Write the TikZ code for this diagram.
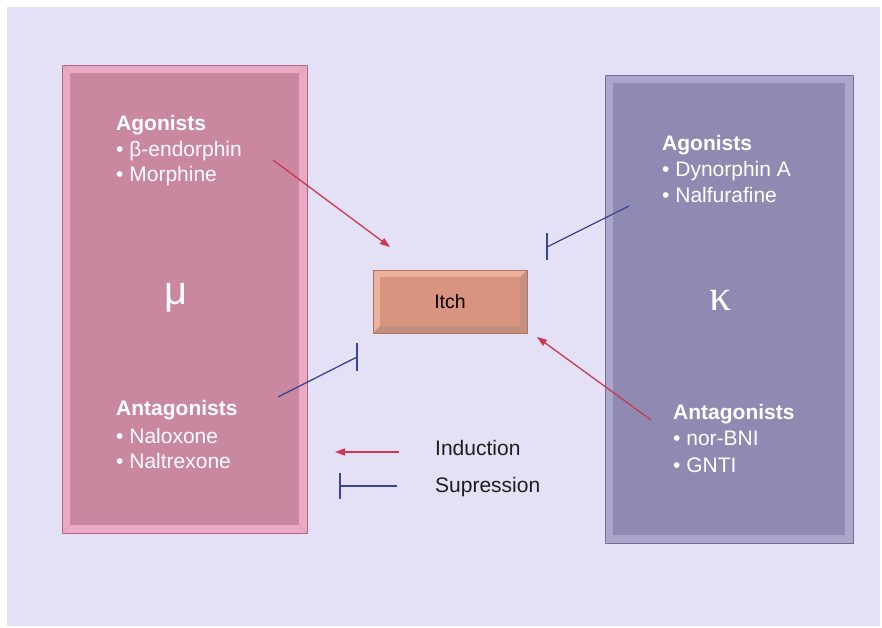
\documentclass[tikz,border=0pt]{standalone}
\usepackage{fontspec}
\setmainfont{Liberation Sans}
\newfontfamily\kapfont{Liberation Serif}
\usetikzlibrary{arrows.meta}
\definecolor{bgcol}{RGB}{228,224,246}
\definecolor{mumain}{RGB}{201,136,160}
\definecolor{mulight}{RGB}{234,170,196}
\definecolor{muedge}{RGB}{170,105,130}
\definecolor{kmain}{RGB}{142,138,178}
\definecolor{klight}{RGB}{170,166,204}
\definecolor{kedge}{RGB}{115,110,150}
\definecolor{itmain}{RGB}{216,148,126}
\definecolor{itlight}{RGB}{236,178,156}
\definecolor{itedge}{RGB}{180,115,95}
\definecolor{indred}{RGB}{205,55,85}
\definecolor{supblue}{RGB}{55,70,150}
\definecolor{legtext}{RGB}{30,30,30}
\tikzset{
  boxbase/.style={rectangle, inner sep=0pt, outer sep=0pt},
  bodytext/.style={anchor=base west, inner sep=0pt, text=white, font=\fontsize{21}{24}\selectfont},
  headtext/.style={bodytext, font=\fontsize{21}{24}\selectfont\bfseries},
  greek/.style={inner sep=0pt, text=white, font=\fontsize{40}{44}\selectfont},
  legtxt/.style={anchor=base west, inner sep=0pt, text=legtext, font=\fontsize{21}{24}\selectfont},
  induce/.style={draw=indred, line width=1.3pt, -{Triangle[length=10pt,width=7pt]}},
  suppress/.style={draw=supblue, line width=1.3pt},
  tbar/.style={draw=supblue, line width=1.5pt},
}
\begin{document}
\begin{tikzpicture}[x=1pt,y=-1pt]
\useasboundingbox (0,0) rectangle (882,628);
\fill[white] (0,0) rectangle (882,628);
\fill[bgcol] (7,7) rectangle (880,626);

% mu box
\node[boxbase, fill=mulight, draw=muedge, line width=0.8pt, minimum width=245pt, minimum height=468pt] (mubox) at (184.5,299) {};
\fill[mumain] ([shift={(8,8)}]mubox.north west) rectangle ([shift={(-8,-8)}]mubox.south east);
\draw[muedge!60, line width=0.5pt] (mubox.north west) -- ([shift={(8,8)}]mubox.north west)
  (mubox.north east) -- ([shift={(-8,8)}]mubox.north east)
  (mubox.south west) -- ([shift={(8,-8)}]mubox.south west)
  (mubox.south east) -- ([shift={(-8,-8)}]mubox.south east);

% kappa box
\node[boxbase, fill=klight, draw=kedge, line width=0.8pt, minimum width=248pt, minimum height=468pt] (kbox) at (729,309) {};
\fill[kmain] ([shift={(8,8)}]kbox.north west) rectangle ([shift={(-8,-8)}]kbox.south east);
\draw[kedge!60, line width=0.5pt] (kbox.north west) -- ([shift={(8,8)}]kbox.north west)
  (kbox.north east) -- ([shift={(-8,8)}]kbox.north east)
  (kbox.south west) -- ([shift={(8,-8)}]kbox.south west)
  (kbox.south east) -- ([shift={(-8,-8)}]kbox.south east);

% itch box
\node[boxbase, fill=itlight, draw=itedge, line width=0.8pt, minimum width=154pt, minimum height=63pt] (itch) at (450,301.5) {};
\fill[itmain] ([shift={(7,7)}]itch.north west) rectangle ([shift={(-7,-7)}]itch.south east);
\fill[itedge!80] (itch.south west) -- ([shift={(7,-7)}]itch.south west) -- ([shift={(-7,-7)}]itch.south east) -- (itch.south east) -- cycle;
\fill[itedge!80] (itch.north east) -- ([shift={(-7,7)}]itch.north east) -- ([shift={(-7,-7)}]itch.south east) -- (itch.south east) -- cycle;
\draw[itedge, line width=0.8pt] (itch.north west) rectangle (itch.south east);
\node[inner sep=0pt, font=\fontsize{19.5}{22}\selectfont, text=black] (itchlabel) at (itch.center) {Itch};

% mu texts
\node[headtext] (muag) at (116,131) {Agonists};
\node[bodytext] (muag1) at (116,157) {• β-endorphin};
\node[bodytext] (muag2) at (116,182) {• Morphine};
\node[greek] (mulabel) at (176,298) {μ};
\node[headtext] (muan) at (116,415) {Antagonists};
\node[bodytext] (muan1) at (116,443) {• Naloxone};
\node[bodytext] (muan2) at (116,468) {• Naltrexone};

% kappa texts
\node[headtext] (kag) at (662,151) {Agonists};
\node[bodytext] (kag1) at (662,177) {• Dynorphin A};
\node[bodytext] (kag2) at (662,203) {• Nalfurafine};
\node[greek, font=\fontsize{44}{48}\selectfont\kapfont] (klabel) at (721,300) {κ};
\node[headtext] (kan) at (673,419) {Antagonists};
\node[bodytext] (kan1) at (673,445) {• nor-BNI};
\node[bodytext] (kan2) at (673,472) {• GNTI};

% connectors
\coordinate (r1s) at (273,160);
\coordinate (r1e) at (390,247);
\coordinate (r2s) at (651,420);
\coordinate (r2e) at (537,337);
\coordinate (b1s) at (629,206);
\coordinate (b1e) at (547,247);
\coordinate (b1t) at (547,233);
\coordinate (b1b) at (547,260);
\coordinate (b2s) at (278,397);
\coordinate (b2e) at (357,357);
\coordinate (b2t) at (357,343);
\coordinate (b2b) at (357,371);
\draw[induce] (r1s) -- (r1e);
\draw[induce] (r2s) -- (r2e);
\draw[suppress] (b1s) -- (b1e);
\draw[tbar] (b1t) -- (b1b);
\draw[suppress] (b2s) -- (b2e);
\draw[tbar] (b2t) -- (b2b);

% legend
\coordinate (l1s) at (399,452);
\coordinate (l1e) at (335,452);
\coordinate (l2s) at (397,486);
\coordinate (l2e) at (340,486);
\coordinate (l2t) at (340,473);
\coordinate (l2b) at (340,499);
\draw[induce] (l1s) -- (l1e);
\draw[suppress] (l2s) -- (l2e);
\draw[tbar] (l2t) -- (l2b);
\node[legtxt] (leg1) at (435,455) {Induction};
\node[legtxt] (leg2) at (435,492) {Supression};
\end{tikzpicture}
\end{document}
